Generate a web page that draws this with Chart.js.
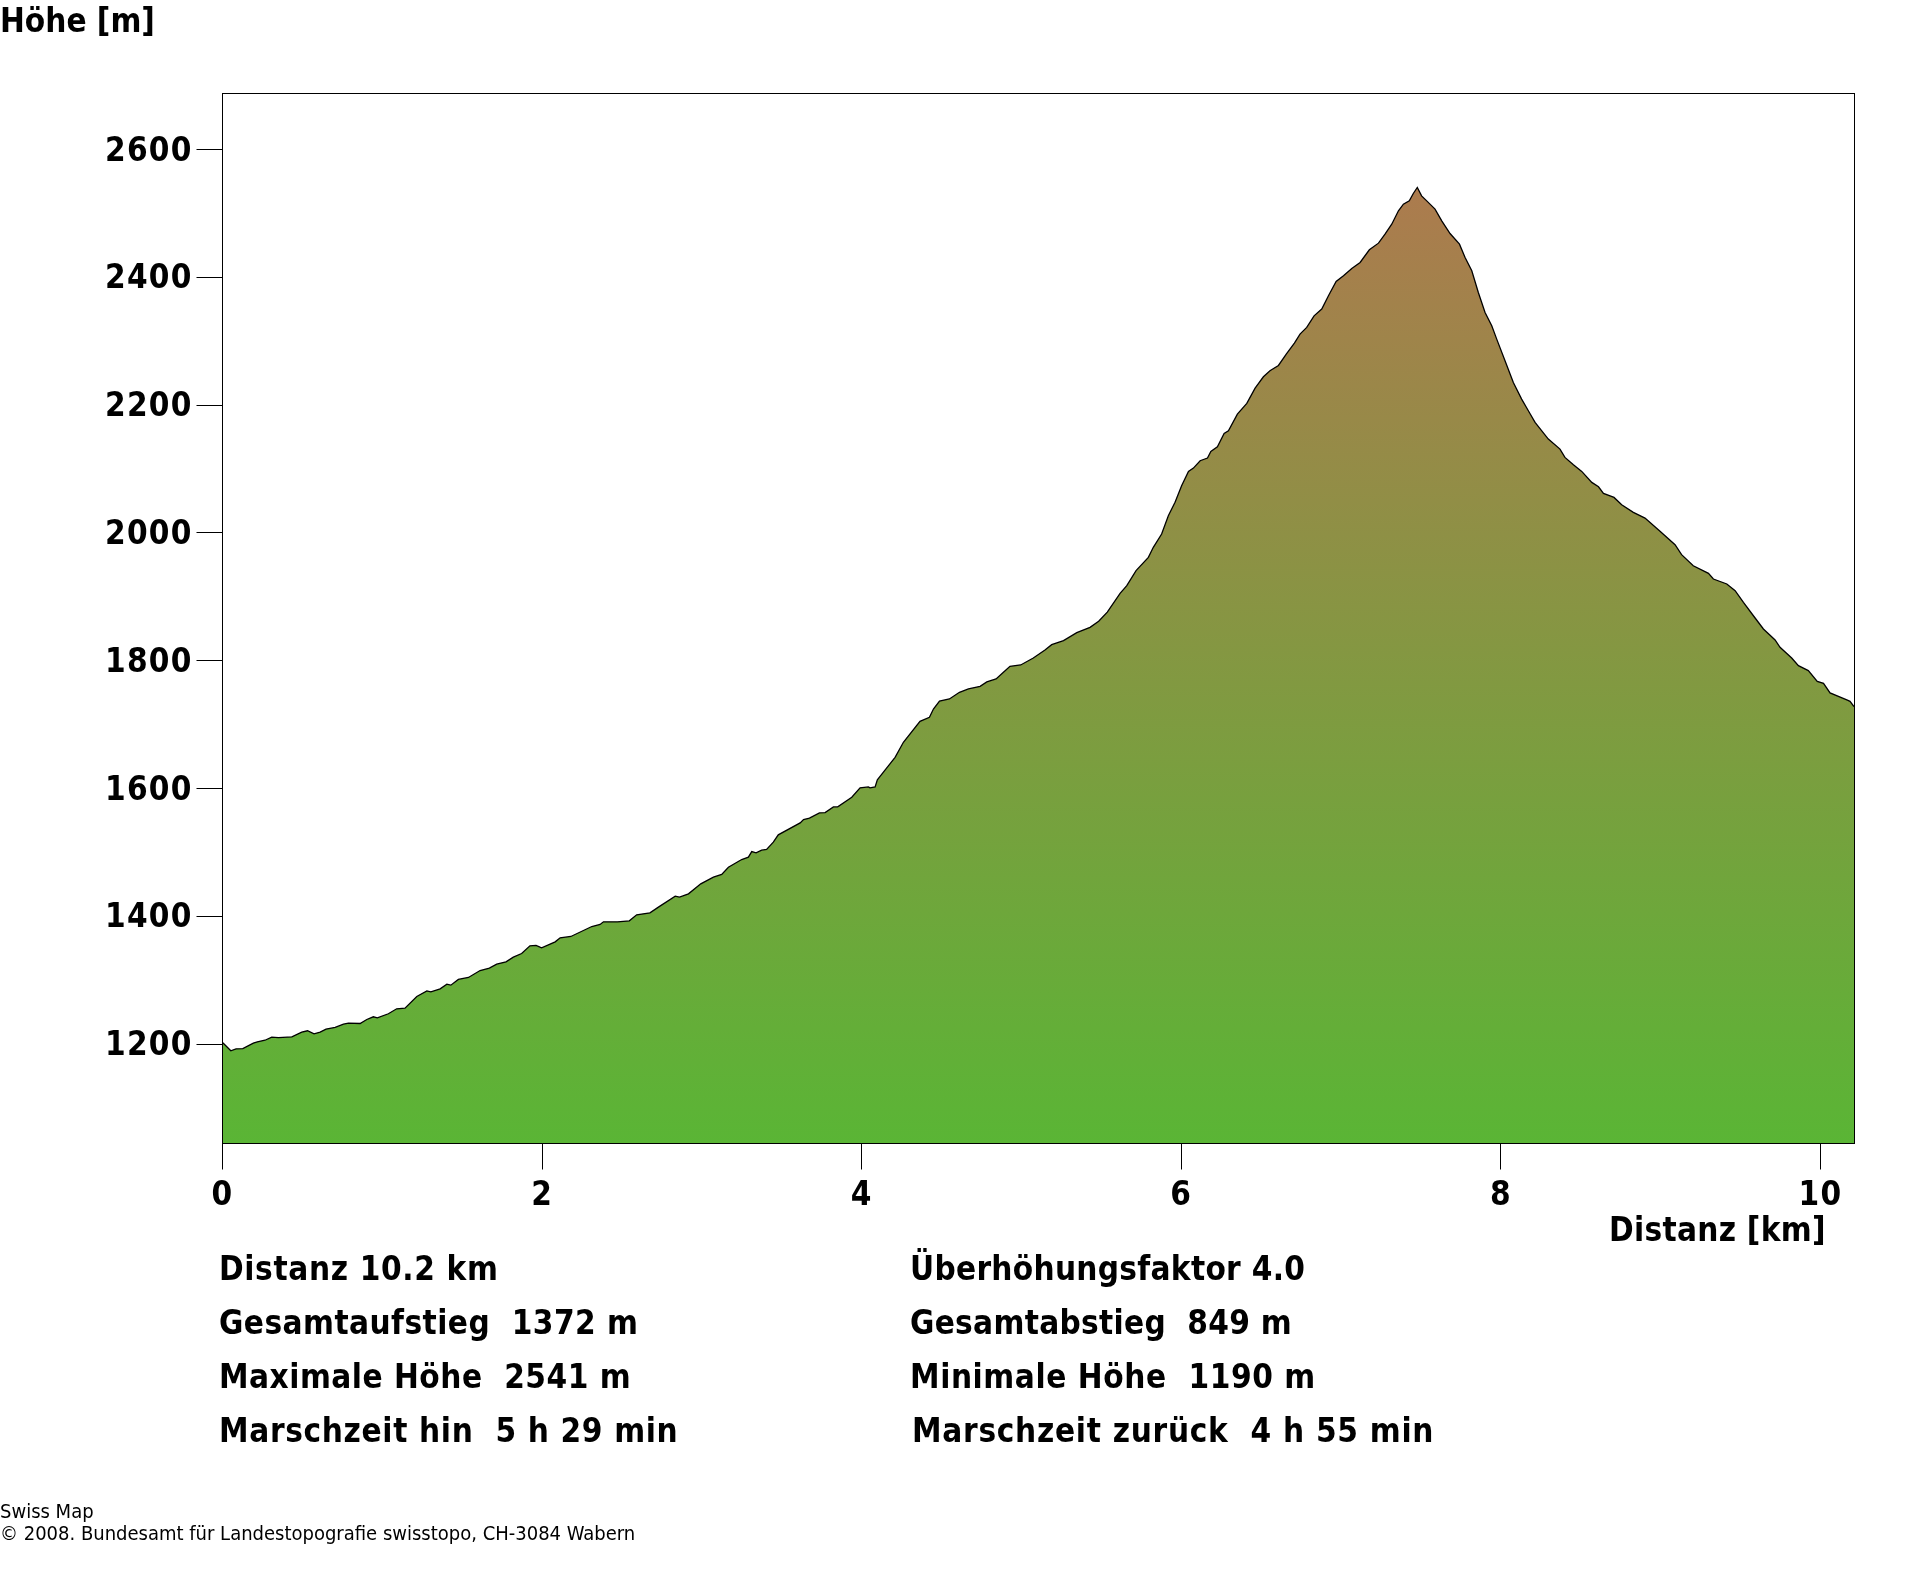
<!DOCTYPE html>
<html>
<head>
<meta charset="utf-8">
<title>Höhenprofil</title>
<script src="https://cdn.jsdelivr.net/npm/chart.js@4"></script>
<style>
  html, body { margin: 0; padding: 0; background: #fff; }
  #wrap { position: relative; width: 1920px; height: 1572px; overflow: hidden; }
  canvas { position: absolute; left: 0; top: 0; }
  .txt { position: absolute; white-space: pre; color: #000; line-height: 1; font-family: "DejaVu Sans Condensed", "DejaVu Sans", sans-serif; font-weight: bold; font-size: 33px; }
  .small { font-weight: normal; font-size: 20px; }
</style>
</head>
<body>
<div id="wrap"><canvas id="profile" width="1920" height="1572"></canvas></div>
<script>
// profile: distance in km, height in m
let distances = [0.002,0.052,0.085,0.127,0.193,0.218,0.266,0.308,0.35,0.434,0.496,0.532,0.573,0.611,0.648,0.705,0.757,0.788,0.861,0.903,0.944,0.969,1.038,1.09,1.142,1.216,1.279,1.304,1.362,1.404,1.429,1.476,1.539,1.612,1.67,1.716,1.774,1.82,1.872,1.924,1.962,1.987,1.997,2.082,2.113,2.18,2.311,2.363,2.384,2.471,2.546,2.592,2.675,2.728,2.833,2.86,2.916,2.993,3.072,3.124,3.166,3.249,3.291,3.312,3.339,3.374,3.405,3.447,3.478,3.615,3.636,3.673,3.736,3.771,3.823,3.85,3.938,3.99,4.042,4.052,4.084,4.098,4.152,4.209,4.261,4.365,4.424,4.449,4.487,4.549,4.612,4.668,4.741,4.783,4.841,4.887,4.928,4.995,5.074,5.147,5.189,5.263,5.346,5.429,5.483,5.537,5.617,5.659,5.717,5.794,5.825,5.877,5.919,5.961,6.002,6.045,6.076,6.118,6.164,6.185,6.226,6.268,6.295,6.351,6.41,6.462,6.514,6.555,6.608,6.658,6.708,6.743,6.785,6.831,6.879,6.921,6.969,7.015,7.067,7.119,7.177,7.234,7.275,7.317,7.359,7.39,7.427,7.452,7.477,7.504,7.536,7.588,7.63,7.682,7.741,7.776,7.818,7.859,7.901,7.943,7.974,8.026,8.078,8.13,8.172,8.214,8.297,8.37,8.401,8.454,8.506,8.569,8.611,8.642,8.708,8.756,8.829,8.902,8.996,9.09,9.131,9.204,9.299,9.33,9.414,9.466,9.518,9.591,9.643,9.716,9.747,9.82,9.862,9.924,9.98,10.019,10.06,10.165,10.185,10.21];
let heights = [1202,1189.5,1192.6,1193,1201.5,1203.6,1206,1211,1210,1211.4,1218.7,1220.8,1216,1218.7,1223.4,1226,1231.2,1232.8,1232.2,1238.5,1242.7,1241.1,1247.4,1255.2,1256.2,1274.5,1283.3,1281.8,1286.5,1293.8,1292.2,1301.1,1304.2,1315.1,1318.8,1325,1328.7,1336,1341.7,1353.7,1354.3,1351.6,1350.6,1360,1366.3,1368.4,1384,1387.2,1391.3,1391.3,1392.9,1402.3,1405.4,1414.3,1431.5,1429.9,1435.1,1450.8,1461.2,1465.4,1476.8,1488.8,1492.5,1501.3,1499.2,1503.4,1504.5,1515.9,1527.4,1546.2,1551.4,1553.5,1561.8,1562.3,1571.2,1571.2,1586.3,1601,1602.4,1600.9,1602.4,1613.4,1630.6,1648.8,1672.3,1705.1,1711.4,1724.4,1736.9,1740.1,1750.5,1755.7,1759.9,1766.7,1771.4,1781.8,1791.2,1793.3,1804.2,1816.7,1825.1,1831.3,1843.8,1852.2,1861.6,1876,1905.4,1917.4,1940.9,1961.7,1977.4,1998.2,2026.9,2047.8,2073.8,2096.2,2101.4,2112.9,2117.1,2127.5,2134.8,2155.7,2159.8,2185.9,2202.6,2226.6,2244.3,2253.7,2262,2280,2297,2311,2321.5,2339.7,2350.2,2371,2393.4,2402.3,2413.8,2423.2,2443,2453.4,2467.5,2483.1,2504,2514.4,2519.6,2531.1,2540.5,2527.4,2519.6,2506.6,2488.3,2468.5,2451.8,2431,2410.1,2376.2,2344.9,2324.1,2303.2,2269.3,2235.4,2209.4,2191.1,2172.9,2146.8,2131.1,2118.1,2106.6,2096.2,2079,2072.2,2061.8,2055.5,2044,2032.1,2023.2,2002.4,1981.5,1965.9,1948.6,1936.7,1927.8,1920,1909.6,1891.3,1866.8,1849.6,1832.4,1820.9,1804.2,1792.2,1784.4,1767.7,1764.6,1749.5,1738.5,1736.4,1728.1];
let xTicks = [0,2,4,6,8,10];
let yTicks = [1200,1400,1600,1800,2000,2200,2400,2600];
let xMin = 0, xMax = 10.213;
let yMin = 1044.4, yMax = 2687.6;

let labelTexts = [
  "Höhe [m]",
  "Distanz [km]",
  "Distanz 10.2 km",
  "Gesamtaufstieg  1372 m",
  "Maximale Höhe  2541 m",
  "Marschzeit hin  5 h 29 min",
  "Überhöhungsfaktor 4.0",
  "Gesamtabstieg  849 m",
  "Minimale Höhe  1190 m",
  "Marschzeit zurück  4 h 55 min"
];
let noteTexts = [
  "Swiss Map",
  "© 2008. Bundesamt für Landestopografie swisstopo, CH-3084 Wabern"
];

// left, baseline, letter spacing for each text above
let labelSpots = [
  [0, 32, 0], [1609, 1241, 0.3],
  [219, 1280, 0.65], [219, 1334, 0.45], [219, 1388, 0.5], [219, 1442, 0.66],
  [910, 1280, 0.3], [910, 1334, 0.3], [910, 1388, 0.58], [912, 1442, 0.72]
];
let noteSpots = [[0, 1518], [0, 1540]];

let wrap = document.getElementById("wrap");
function addText(text, spot, cls, ascent) {
  let d = document.createElement("div");
  d.className = cls;
  d.textContent = text;
  d.style.left = spot[0] + "px";
  d.style.top = (spot[1] - ascent) + "px";
  if (spot[2]) d.style.letterSpacing = spot[2] + "px";
  wrap.appendChild(d);
}
labelTexts.forEach((t, i) => addText(t, labelSpots[i], "txt", 28));
noteTexts.forEach((t, i) => addText(t, noteSpots[i], "txt small", 17));

function areaFill(context) {
  let chart = context.chart;
  if (!chart.chartArea) return "#5ab535";
  let top = chart.scales.y.getPixelForValue(Math.max(...heights));
  let g = chart.ctx.createLinearGradient(0, chart.chartArea.bottom, 0, top);
  g.addColorStop(0, "#5ab535");
  g.addColorStop(1, "#ac7b4e");
  return g;
}

let frame = {
  id: "frame",
  beforeDraw(chart) {
    // tick digits sit a little wider apart in the reference
    chart.ctx.letterSpacing = "1.2px";
  },
  afterDatasetsDraw(chart) {
    let a = chart.chartArea, c = chart.ctx;
    c.save();
    c.strokeStyle = "#000";
    c.lineWidth = 1;
    c.strokeRect(a.left, a.top, a.right - a.left, a.bottom - a.top);
    c.restore();
  }
};

let font = { family: '"DejaVu Sans Condensed", "DejaVu Sans", sans-serif', size: 33, weight: "bold" };

new Chart(document.getElementById("profile").getContext("2d"), {
  type: "line",
  data: {
    datasets: [{
      data: distances.map((d, i) => ({ x: d, y: heights[i] })),
      borderColor: "#000",
      borderWidth: 1.3,
      pointRadius: 0,
      tension: 0,
      fill: "start",
      backgroundColor: areaFill
    }]
  },
  plugins: [frame],
  options: {
    responsive: false,
    animation: false,
    layout: { padding: { top: 93.5, right: 65.5, left: 0, bottom: 0 } },
    plugins: { legend: { display: false }, tooltip: { enabled: false } },
    scales: {
      x: {
        type: "linear",
        min: xMin,
        max: xMax,
        afterBuildTicks: axis => { axis.ticks = xTicks.map(v => ({ value: v })); },
        afterFit: axis => { axis.height = 428.5; },
        grid: { drawOnChartArea: false, tickLength: 26, tickColor: "#000", tickWidth: 1 },
        border: { color: "#000", width: 1 },
        ticks: { color: "#000", font: font, padding: 7, maxRotation: 0, callback: v => String(v) }
      },
      y: {
        min: yMin,
        max: yMax,
        afterBuildTicks: axis => { axis.ticks = yTicks.map(v => ({ value: v })); },
        afterFit: axis => { axis.width = 222.5; },
        grid: { drawOnChartArea: false, tickLength: 26, tickColor: "#000", tickWidth: 1 },
        border: { color: "#000", width: 1 },
        ticks: { color: "#000", font: font, padding: 4, labelOffset: 2.5, callback: v => String(v) }
      }
    }
  }
});
</script>
</body>
</html>
